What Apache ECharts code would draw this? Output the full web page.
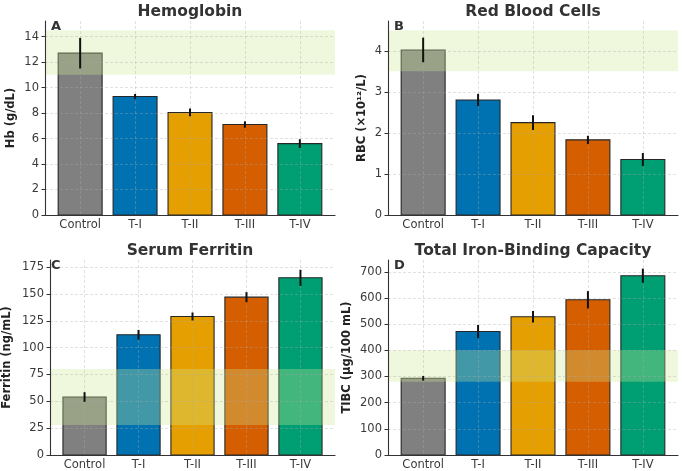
<!DOCTYPE html>
<html>
<head>
<meta charset="utf-8">
<script src="https://cdn.jsdelivr.net/npm/echarts@6/dist/echarts.min.js"></script>
<style>html,body{margin:0;padding:0;background:#fff}#c{width:685px;height:471px}</style>
</head>
<body>
<div id="c"></div>
<script>
// ---- data ----
const categories = ['Control', 'T-I', 'T-II', 'T-III', 'T-IV'];
const barColors = ['#808080', '#0072B2', '#E69F00', '#D55E00', '#009E73'];

const hbMean = [12.7, 9.3, 8.05, 7.1, 5.6];
const hbSd = [1.2, 0.2, 0.3, 0.25, 0.35];
const hbRange = [11, 14.5];
const hbTicks = [0, 2, 4, 6, 8, 10, 12, 14];

const rbcMean = [4.02, 2.8, 2.25, 1.83, 1.35];
const rbcSd = [0.3, 0.15, 0.18, 0.1, 0.16];
const rbcRange = [3.5, 4.5];
const rbcTicks = [0, 1, 2, 3, 4];

const ferMean = [54, 112, 129, 147, 165];
const ferSd = [4.5, 4.5, 3.7, 4.7, 7.5];
const ferRange = [28, 80];
const ferTicks = [0, 25, 50, 75, 100, 125, 150, 175];

const tibcMean = [293, 472, 528, 593, 685];
const tibcSd = [9, 25, 22, 33, 27];
const tibcRange = [280, 400];
const tibcTicks = [0, 100, 200, 300, 400, 500, 600, 700];

const panels = [
  {title: 'Hemoglobin', letter: 'A', yName: 'Hb (g/dL)', mean: hbMean, sd: hbSd, range: hbRange, ticks: hbTicks, max: 15.225, left: 45, top: 21, height: 194, nameGap: 28},
  {title: 'Red Blood Cells', letter: 'B', yName: 'RBC (×10¹²/L)', mean: rbcMean, sd: rbcSd, range: rbcRange, ticks: rbcTicks, max: 4.725, left: 388, top: 21, height: 194, nameGap: 20},
  {title: 'Serum Ferritin', letter: 'C', yName: 'Ferritin (ng/mL)', mean: ferMean, sd: ferSd, range: ferRange, ticks: ferTicks, max: 181.6, left: 45, top: 260, height: 195.5, nameGap: 37},
  {title: 'Total Iron-Binding Capacity', letter: 'D', yName: 'TIBC (µg/100 mL)', mean: tibcMean, sd: tibcSd, range: tibcRange, ticks: tibcTicks, max: 745, left: 388, top: 260, height: 195.5, nameGap: 35}
];

const FONT = 'DejaVu Sans';
const catIdx = categories.map((c, i) => i);

function renderBar(params, api) {
  const i = api.value(0), v = api.value(1);
  const p0 = api.coord([i - 0.4, v]);
  const p1 = api.coord([i + 0.4, 0]);
  return {type: 'rect', shape: {x: p0[0], y: p0[1], width: p1[0] - p0[0], height: p1[1] - p0[1]},
          style: {fill: barColors[i], stroke: '#262626', lineWidth: 1.1}};
}
function renderErr(params, api) {
  const i = api.value(0), v = api.value(1), e = api.value(2);
  const t = api.coord([i, v + e]);
  const b = api.coord([i, v - e]);
  return {type: 'line', shape: {x1: t[0], y1: t[1], x2: b[0], y2: b[1]},
          style: {stroke: '#111', lineWidth: 2}};
}
function renderBand(params, api) {
  const cs = params.coordSys;
  const lo = api.coord([0, api.value(0)])[1];
  const hi = api.coord([0, api.value(1)])[1];
  return {type: 'rect', shape: {x: cs.x, y: hi, width: cs.width, height: lo - hi},
          style: {fill: 'rgba(205,232,145,0.32)'}};
}

const option = {
  animation: false,
  backgroundColor: '#fff',
  title: [], grid: [], xAxis: [], yAxis: [], series: [], graphic: []
};

panels.forEach((p, k) => {
  option.grid.push({left: p.left, top: p.top, width: 290, height: p.height, containLabel: false});
  option.title.push({
    text: p.title, left: p.left + 145, textAlign: 'center', top: p.top - 17, padding: 0,
    textStyle: {fontFamily: FONT, fontWeight: 'bold', fontSize: 15.5, color: '#333'}
  });
  option.graphic.push({
    type: 'text', left: p.left + 6, top: p.top - 1, z: 20,
    style: {text: p.letter, font: 'bold 13px "DejaVu Sans"', fill: '#333'}
  });
  option.xAxis.push({
    type: 'value', gridIndex: k, min: -0.64, max: 4.64, z: 10,
    axisLine: {show: true, onZero: false, lineStyle: {color: '#333', width: 1.1}},
    axisTick: {show: false, customValues: catIdx},
    axisLabel: {customValues: catIdx, formatter: v => categories[v], margin: 4,
                fontFamily: FONT, fontSize: 11.5, color: '#3a3a3a'},
    splitLine: {show: true, lineStyle: {color: 'rgba(170,170,170,0.45)', type: [3, 2], width: 0.8}}
  });
  option.yAxis.push({
    type: 'value', gridIndex: k, min: 0, max: p.max, z: 10,
    name: p.yName, nameLocation: 'middle', nameGap: p.nameGap, nameRotate: 90,
    nameTextStyle: {fontFamily: FONT, fontWeight: 'bold', fontSize: 11.5, color: '#222'},
    axisLine: {show: true, onZero: false, lineStyle: {color: '#333', width: 1.1}},
    axisTick: {show: true, length: 3.5, customValues: p.ticks, lineStyle: {color: '#333'}},
    axisLabel: {customValues: p.ticks, margin: 6, fontFamily: FONT, fontSize: 11.5, color: '#3a3a3a'},
    splitLine: {show: true, lineStyle: {color: 'rgba(170,170,170,0.45)', type: [3, 2], width: 0.8}}
  });
  const rows = p.mean.map((m, i) => [i, m, p.sd[i]]);
  option.series.push({
    type: 'custom', xAxisIndex: k, yAxisIndex: k, z: 2,
    renderItem: renderBar, data: rows
  });
  option.series.push({
    type: 'custom', xAxisIndex: k, yAxisIndex: k, z: 3,
    renderItem: renderBand, encode: {x: [], y: [0, 1]},
    data: [[p.range[0], p.range[1]]]
  });
  option.series.push({
    type: 'custom', xAxisIndex: k, yAxisIndex: k, z: 12,
    renderItem: renderErr, data: rows
  });
});

const chart = echarts.init(document.getElementById('c'), null, {renderer: 'canvas'});
chart.setOption(option);
</script>
</body>
</html>
